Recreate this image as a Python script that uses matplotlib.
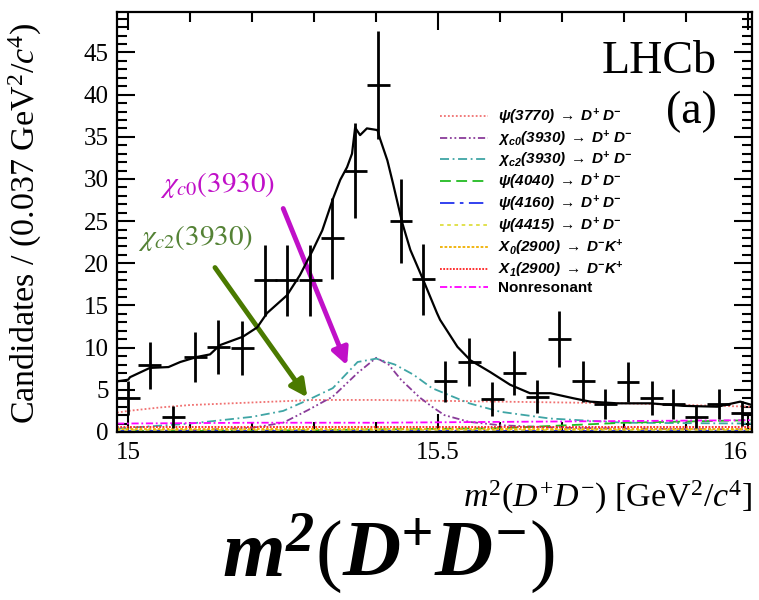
import numpy as np
import matplotlib
matplotlib.use("Agg")
import matplotlib.pyplot as plt
from matplotlib.ticker import MultipleLocator

plt.rcParams['font.family'] = ['Liberation Serif', 'DejaVu Serif']
plt.rcParams['mathtext.fontset'] = 'custom'
plt.rcParams['mathtext.rm'] = 'Liberation Serif'
plt.rcParams['mathtext.it'] = 'Liberation Serif:italic'
plt.rcParams['mathtext.bf'] = 'Liberation Serif:bold:italic'
plt.rcParams['mathtext.sf'] = 'Liberation Sans:bold:italic'

# data points (bin centres, candidates, errors)
x_data = [15.000, 15.035, 15.073, 15.108, 15.145, 15.184, 15.221, 15.256, 15.294, 15.329,
          15.366, 15.403, 15.440, 15.476, 15.511, 15.550, 15.587, 15.623, 15.660, 15.695,
          15.734, 15.769, 15.806, 15.844, 15.879, 15.916, 15.952, 15.990]
y_data = [4.0, 7.9, 1.8, 8.9, 10.1, 10.0, 18.0, 18.0, 18.0, 23.0,
          31.0, 41.1, 25.0, 18.1, 6.0, 8.3, 3.9, 7.0, 4.2, 11.0,
          6.0, 3.3, 5.9, 4.0, 3.3, 1.8, 3.3, 2.2]
y_err = [2.0, 2.8, 1.3, 3.0, 3.2, 3.2, 4.2, 4.2, 4.2, 4.8,
         5.6, 6.4, 5.0, 4.2, 2.4, 2.9, 2.0, 2.6, 2.0, 3.3,
         2.4, 1.8, 2.4, 2.0, 1.8, 1.3, 1.8, 1.5]
half_bin = 0.0185

# total fit
x_fit = [14.982, 15.000, 15.003, 15.035, 15.065, 15.084, 15.111, 15.132, 15.148, 15.185,
         15.208, 15.224, 15.256, 15.277, 15.298, 15.313, 15.331, 15.342, 15.353, 15.361,
         15.366, 15.374, 15.385, 15.402, 15.406, 15.418, 15.427, 15.442, 15.455, 15.476,
         15.498, 15.503, 15.531, 15.552, 15.584, 15.616, 15.648, 15.681, 15.718, 15.745,
         15.789, 15.842, 15.895, 15.950, 15.987, 16.006]
y_fit = [6.0, 6.2, 6.5, 7.6, 7.7, 8.3, 8.9, 9.2, 10.3, 11.3,
         12.4, 14.1, 16.2, 18.6, 21.6, 23.9, 27.8, 29.9, 31.4, 33.0,
         36.1, 35.2, 36.0, 35.8, 34.8, 32.2, 29.5, 24.8, 21.6, 18.0,
         14.1, 13.3, 10.1, 8.5, 7.1, 5.6, 4.6, 4.6, 4.0, 3.6,
         3.4, 3.4, 3.1, 3.0, 3.6, 3.2]

# components
x_psi3770 = [14.982, 15.0, 15.05, 15.1, 15.2, 15.3, 15.4, 15.5, 15.6, 15.7, 15.8, 15.9, 16.006]
y_psi3770 = [2.3, 2.5, 2.9, 3.2, 3.5, 3.8, 3.8, 3.7, 3.6, 3.5, 3.4, 3.2, 3.0]
x_chic0 = [14.982, 15.1, 15.2, 15.25, 15.29, 15.33, 15.37, 15.40, 15.42, 15.44,
           15.47, 15.49, 15.51, 15.55, 15.6, 15.7, 15.8, 16.006]
y_chic0 = [0.1, 0.2, 0.5, 1.1, 2.6, 4.2, 7.0, 8.8, 8.0, 6.2,
           4.1, 3.0, 2.0, 1.2, 0.8, 0.5, 0.4, 0.3]
x_chic2 = [14.982, 15.1, 15.2, 15.25, 15.29, 15.33, 15.37, 15.40, 15.43, 15.46,
           15.49, 15.55, 15.6, 15.68, 15.8, 16.006]
y_chic2 = [0.4, 1.0, 1.8, 2.5, 3.8, 5.2, 8.3, 8.7, 8.0, 6.8,
           5.2, 3.4, 2.4, 1.6, 1.1, 1.0]
x_flat = [14.982, 15.2, 15.4, 15.6, 15.8, 16.006]
y_psi4040 = [0.1, 0.15, 0.3, 0.45, 1.1, 1.4]
y_psi4160 = [0.1, 0.1, 0.1, 0.1, 0.1, 0.1]
y_psi4415 = [0.2, 0.2, 0.2, 0.2, 0.2, 0.2]
y_x0 = [0.3, 0.3, 0.3, 0.3, 0.3, 0.3]
y_x1 = [0.6, 0.6, 0.6, 0.6, 0.6, 0.6]
y_nonres = [1.0, 1.1, 1.1, 1.2, 1.3, 1.4]

fig = plt.figure(figsize=(7.59, 6.0), dpi=100)
ax = fig.add_axes([117/759, 168/600, 635/759, 420/600])

comps = [
    (x_psi3770, y_psi3770, '#f07070', (0, (1, 1.2)), r'$\mathsf{\psi(3770)\ \rightarrow\ D^{+}\ D^{-}}$'),
    (x_chic0, y_chic0, '#8a3c9a', (0, (4, 1.5, 1, 1.5, 1, 1.5)), r'$\mathsf{\chi_{c0}(3930)\ \rightarrow\ D^{+}\ D^{-}}$'),
    (x_chic2, y_chic2, '#3fa5a5', (0, (5, 2, 1, 2)), r'$\mathsf{\chi_{c2}(3930)\ \rightarrow\ D^{+}\ D^{-}}$'),
    (x_flat, y_psi4040, '#22bb22', (0, (6, 3)), r'$\mathsf{\psi(4040)\ \rightarrow\ D^{+}\ D^{-}}$'),
    (x_flat, y_psi4160, '#2233ee', (0, (8, 3, 2, 3)), r'$\mathsf{\psi(4160)\ \rightarrow\ D^{+}\ D^{-}}$'),
    (x_flat, y_psi4415, '#dede40', (0, (2, 2)), r'$\mathsf{\psi(4415)\ \rightarrow\ D^{+}\ D^{-}}$'),
    (x_flat, y_x0, '#f0b000', (0, (1.5, 1)), r'$\mathsf{X_{0}(2900)\ \rightarrow\ D^{-}K^{+}}$'),
    (x_flat, y_x1, '#ff2020', (0, (1, 0.8)), r'$\mathsf{X_{1}(2900)\ \rightarrow\ D^{-}K^{+}}$'),
    (x_flat, y_nonres, '#ff00ff', (0, (4, 1.5, 1, 1.5)), 'Nonresonant'),
]
handles = []
for xs, ys, col, ls, lab in comps:
    h, = ax.plot(xs, ys, color=col, ls=ls, lw=1.3, label=lab)
    handles.append(h)

ax.plot(x_fit, y_fit, color='black', lw=1.6, zorder=4)
ax.errorbar(x_data, y_data, xerr=half_bin, yerr=y_err, fmt='none', ecolor='black',
            elinewidth=2.0, capsize=0, zorder=5)

ax.set_xlim(14.982, 16.006)
ax.set_ylim(0, 49.8)
ax.xaxis.set_minor_locator(MultipleLocator(0.1))
ax.yaxis.set_minor_locator(MultipleLocator(1))
ax.set_xticks([15, 15.5, 16])
ax.set_xticklabels(['15', '15.5', '16'])
ax.get_xticklabels()[-1].set_horizontalalignment('right')
ax.set_yticks(range(0, 50, 5))
ax.tick_params(which='both', direction='in', top=True, right=True, width=1.5)
ax.tick_params(which='major', length=13, labelsize=18, pad=6)
ax.tick_params(which='minor', length=7)
ax.tick_params(axis='x', pad=7)
for s in ax.spines.values():
    s.set_linewidth(1.6)

leg = ax.legend(handles=handles, loc='upper left', bbox_to_anchor=(0.509, 0.775),
                frameon=False, borderpad=0, borderaxespad=0, handlelength=3.1,
                handletextpad=0.65, labelspacing=0.1,
                prop={'family': 'Liberation Sans', 'weight': 'bold', 'size': 11})

ax.text(0.945, 0.881, 'LHCb', transform=ax.transAxes, ha='right', va='center',
        fontsize=33, fontfamily='Liberation Serif')
ax.text(0.945, 0.762, '(a)', transform=ax.transAxes, ha='right', va='center',
        fontsize=33, fontfamily='Liberation Serif')

# annotations
ax.text(15.052, 29.3, r'$\chi_{c0}(3930)$', color='#c010c8', fontsize=21,
        va='center', ha='left', math_fontfamily='stix')
ax.text(15.016, 23.0, r'$\chi_{c2}(3930)$', color='#548235', fontsize=21,
        va='center', ha='left', math_fontfamily='stix')
ax.annotate('', xy=(15.353, 7.9), xytext=(15.250, 26.5),
            arrowprops=dict(arrowstyle='-|>', lw=3.5, color='#c010c8',
                            mutation_scale=25, shrinkA=0, shrinkB=0))
ax.annotate('', xy=(15.289, 4.1), xytext=(15.140, 19.5),
            arrowprops=dict(arrowstyle='-|>', lw=3.5, color='#4a7a00',
                            mutation_scale=25, shrinkA=0, shrinkB=0))

fig.text(752/759, (600-497)/600, r'$m^2(D^{+}D^{-})$ [GeV$^2$/$c^4$]',
         ha='right', va='center', fontsize=24.5)
fig.text(25/759, (600-223)/600, r'Candidates / (0.037 GeV$^2$/$c^4$)',
         ha='center', va='center', rotation=90, fontsize=24.5)
fig.text(388/759, 23/600,
         r'$\mathbf{m}^{\mathbf{2}}(\mathbf{D}^{\mathbf{+}}\mathbf{D}^{\mathbf{-}})$',
         ha='center', va='baseline', fontsize=58)

fig.savefig('out.png', dpi=100)
